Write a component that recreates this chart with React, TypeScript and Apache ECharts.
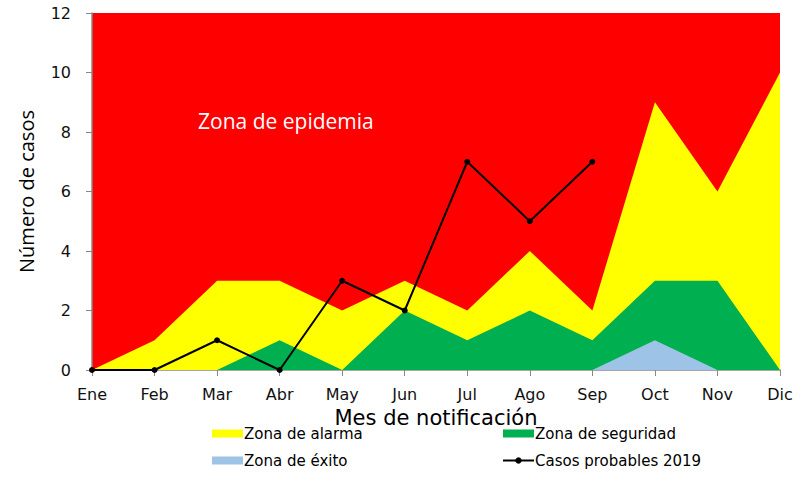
import React, { useEffect, useRef } from "react";
import * as echarts from "echarts";

const months = ["Ene", "Feb", "Mar", "Abr", "May", "Jun", "Jul", "Ago", "Sep", "Oct", "Nov", "Dic"];
const alarma = [0, 1, 3, 3, 2, 3, 2, 4, 2, 9, 6, 10];
const seguridad = [0, 0, 0, 1, 0, 2, 1, 2, 1, 3, 3, 0];
const exito = [0, 0, 0, 0, 0, 0, 0, 0, 0, 1, 0, 0];
const casos2019 = [0, 0, 1, 0, 3, 2, 7, 5, 7];

const FONT = "DejaVu Sans";

export default function App() {
  const ref = useRef<HTMLDivElement>(null);
  useEffect(() => {
    if (!ref.current) return;
    const chart = echarts.init(ref.current, undefined, { renderer: "svg" });
    chart.setOption({
      animation: false,
      grid: {
        left: 92,
        right: 27,
        top: 13,
        bottom: 129,
        show: true,
        backgroundColor: "#FF0000",
        borderWidth: 0,
      },
      xAxis: {
        type: "category",
        data: months,
        boundaryGap: false,
        name: "Mes de notificación",
        nameLocation: "middle",
        nameGap: 35,
        nameTextStyle: { fontFamily: FONT, fontSize: 21, color: "#000", lineHeight: 22 },
        axisLine: { lineStyle: { color: "#888", width: 1.5 } },
        axisTick: { show: true, length: 6, lineStyle: { color: "#888" } },
        axisLabel: { fontFamily: FONT, fontSize: 16, color: "#111", margin: 16 },
        splitLine: { show: false },
      },
      yAxis: {
        type: "value",
        min: 0,
        max: 12,
        interval: 2,
        name: "Número de casos",
        nameLocation: "middle",
        nameGap: 56,
        nameTextStyle: { fontFamily: "Open Sans", fontSize: 20, color: "#000" },
        axisLine: { show: true, lineStyle: { color: "#888", width: 1.5 } },
        axisTick: { show: true, inside: false, length: 6, lineStyle: { color: "#888" } },
        axisLabel: { fontFamily: FONT, fontSize: 16, color: "#111", margin: 21 },
        splitLine: { show: false },
      },
      legend: [
        {
          left: 212,
          top: 425,
          padding: 0,
          orient: "vertical",
          itemGap: 10,
          itemWidth: 31,
          itemHeight: 8,
          data: [
            { name: "Zona de alarma", icon: "rect" },
            { name: "Zona de éxito", icon: "rect" },
          ],
          textStyle: { fontFamily: FONT, fontSize: 15, color: "#000", padding: [0, 0, 0, -4], lineHeight: 17 },
        },
        {
          left: 502,
          top: 425,
          padding: 0,
          orient: "vertical",
          itemGap: 10,
          itemWidth: 31,
          itemHeight: 8,
          data: [
            { name: "Zona de seguridad", icon: "rect" },
            { name: "Casos probables 2019" },
          ],
          textStyle: { fontFamily: FONT, fontSize: 15, color: "#000", padding: [0, 0, 0, -4], lineHeight: 17 },
        },
      ],
      graphic: [
        {
          type: "text",
          left: 198,
          top: 110,
          style: {
            text: "Zona de epidemia",
            fill: "#fff",
            fontFamily: "Open Sans",
            fontSize: 21,
          },
        },
      ],
      series: [
        {
          name: "Zona de alarma",
          type: "line",
          data: alarma,
          symbol: "none",
          lineStyle: { width: 0 },
          itemStyle: { color: "#FFFF00" },
          areaStyle: { color: "#FFFF00", opacity: 1 },
          z: 1,
        },
        {
          name: "Zona de seguridad",
          type: "line",
          data: seguridad,
          symbol: "none",
          lineStyle: { width: 0 },
          itemStyle: { color: "#00B050" },
          areaStyle: { color: "#00B050", opacity: 1 },
          z: 2,
        },
        {
          name: "Zona de éxito",
          type: "line",
          data: exito,
          symbol: "none",
          lineStyle: { width: 0 },
          itemStyle: { color: "#9DC3E6" },
          areaStyle: { color: "#9DC3E6", opacity: 1 },
          z: 3,
        },
        {
          name: "Casos probables 2019",
          type: "line",
          data: casos2019,
          symbol: "circle",
          symbolSize: 6,
          lineStyle: { color: "#000", width: 2 },
          itemStyle: { color: "#000" },
          z: 5,
        },
      ],
    });
    return () => chart.dispose();
  }, []);
  return <div ref={ref} style={{ width: 807, height: 499, position: "absolute", left: 0, top: 0 }} />;
}
